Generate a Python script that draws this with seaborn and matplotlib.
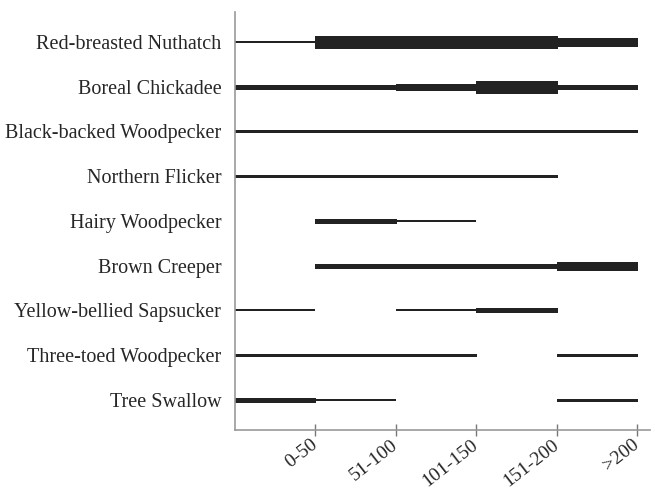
import pandas as pd
import matplotlib.pyplot as plt
import seaborn as sns

# species (top to bottom) and stand age classes
species = ['Red-breasted Nuthatch', 'Boreal Chickadee', 'Black-backed Woodpecker',
           'Northern Flicker', 'Hairy Woodpecker', 'Brown Creeper',
           'Yellow-bellied Sapsucker', 'Three-toed Woodpecker', 'Tree Swallow']
age_classes = ['0-50', '51-100', '101-150', '151-200', '>200']

# abundance level in each interval between age class ticks (0 = absent)
levels = [
    [1, 6, 6, 6, 5],
    [3, 3, 4, 6, 3],
    [2, 2, 2, 2, 2],
    [2, 2, 2, 2, 0],
    [0, 3, 1, 0, 0],
    [0, 3, 3, 3, 5],
    [1, 0, 1, 3, 0],
    [2, 2, 2, 0, 2],
    [3, 1, 0, 0, 2],
]

# line width (pixels) for each abundance level
level_px = {1: 2, 2: 3, 3: 5, 4: 7, 5: 9, 6: 13}

# build segments table, merging runs of the same level
rows = []
seg = 0
for i, sp in enumerate(species):
    lv_row = levels[i]
    j = 0
    while j < len(lv_row):
        lv = lv_row[j]
        k = j
        while k + 1 < len(lv_row) and lv_row[k + 1] == lv:
            k += 1
        if lv > 0:
            for x in (j, k + 1):
                rows.append({'species': sp, 'row': i, 'x': x, 'level': lv, 'seg': seg})
            seg += 1
        j = k + 1
df = pd.DataFrame(rows)

sns.set_style('white')
plt.rcParams['font.family'] = ['Liberation Serif', 'DejaVu Serif']

fig = plt.figure(figsize=(6.55, 4.92), dpi=100)
ax = fig.add_axes([0.359, 0.126, 0.633, 0.85])

sizes = {k: v * 0.72 for k, v in level_px.items()}
sns.lineplot(data=df, x='x', y='row', size='level', sizes=sizes, units='seg',
             estimator=None, color='#222222', legend=False, sort=False,
             solid_capstyle='butt', antialiased=False, ax=ax)

ax.set_xlim(0, 5.16)
ax.set_ylim(8.67, -0.67)

ax.set_xticks(range(1, len(age_classes) + 1))
ax.set_xticklabels(age_classes, rotation=38, ha='right', va='center',
                   rotation_mode='anchor', fontsize=14)
ax.set_yticks(range(len(species)))
ax.set_yticklabels(species, fontsize=14.5)
ax.tick_params(axis='x', bottom=True, direction='inout', length=8.5, width=1,
               color='#777777', pad=5)
ax.tick_params(axis='y', left=False, length=0, pad=10)
ax.set_xlabel('')
ax.set_ylabel('')

for s in ['top', 'right']:
    ax.spines[s].set_visible(False)
for s in ['left', 'bottom']:
    ax.spines[s].set_color('#999999')
    ax.spines[s].set_linewidth(1.2)

fig.savefig('out.png', dpi=100)
